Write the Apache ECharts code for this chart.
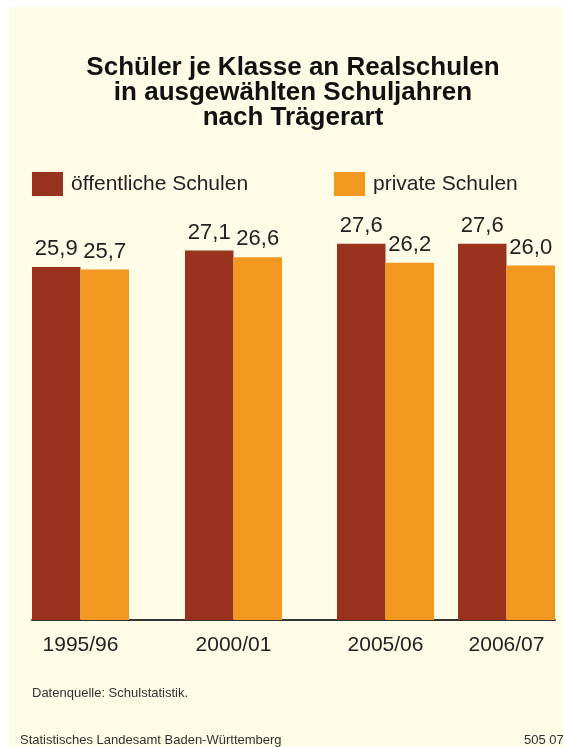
<!DOCTYPE html>
<html>
<head>
<meta charset="utf-8">
<script src="https://cdn.jsdelivr.net/npm/echarts@6/dist/echarts.min.js"></script>
<style>
html, body { margin: 0; padding: 0; background: #fff; }
#chart { width: 563px; height: 747px; }
</style>
</head>
<body>
<div id="chart"></div>
<script>
// Schuljahre
const years = ["1995/96", "2000/01", "2005/06", "2006/07"];
// Schüler je Klasse
const oeffentlich = [25.9, 27.1, 27.6, 27.6];
const privat = [25.7, 26.6, 26.2, 26.0];
// Lage der Gruppen auf der x-Achse (Abstände im Original ungleich)
const groupPos = [48.5, 201.5, 353.5, 474.5];

const font = '"Liberation Sans", Arial, sans-serif';
const textColor = "#222";

const chart = echarts.init(document.getElementById("chart"));

const fmt = (p) => p.value[1].toFixed(1).replace(".", ",");

const option = {
  backgroundColor: "#fff",
  animation: false,
  textStyle: { fontFamily: font },
  title: {
    text: "Schüler je Klasse an Realschulen\nin ausgewählten Schuljahren\nnach Trägerart",
    left: 288,
    textAlign: "center",
    top: 50,
    textStyle: {
      fontFamily: font,
      fontSize: 26,
      fontWeight: "bold",
      color: "#111",
      lineHeight: 25,
    },
  },
  legend: [
    {
      data: ["öffentliche Schulen"],
      left: 32,
      top: 172,
      padding: 0,
      itemWidth: 31,
      itemHeight: 24,
      icon: "rect",
      textStyle: { fontSize: 21, color: textColor, padding: [0, 0, 0, 3] },
    },
    {
      data: ["private Schulen"],
      left: 334,
      top: 172,
      padding: 0,
      itemWidth: 31,
      itemHeight: 24,
      icon: "rect",
      textStyle: { fontSize: 21, color: textColor, padding: [0, 0, 0, 3] },
    },
  ],
  grid: { left: 32, right: 8, top: 211, bottom: 127 },
  xAxis: {
    type: "value",
    min: 0,
    max: 523,
    splitLine: { show: false },
    axisTick: { show: false },
    axisLine: { show: true, lineStyle: { color: "#333", width: 2 } },
    axisLabel: {
      customValues: groupPos,
      formatter: (v) => years[groupPos.indexOf(v)],
      fontSize: 21,
      color: textColor,
      margin: 15,
    },
  },
  yAxis: { type: "value", min: 0, max: 30, show: false },
  series: [
    {
      name: "öffentliche Schulen",
      type: "bar",
      barWidth: 48.5,
      barGap: "0%",
      itemStyle: { color: "#99331D" },
      data: groupPos.map((p, i) => [p, oeffentlich[i]]),
      label: { show: true, position: "top", distance: 7, fontSize: 22, color: textColor, formatter: fmt },
    },
    {
      name: "private Schulen",
      type: "bar",
      barWidth: 48.5,
      barGap: "0%",
      itemStyle: { color: "#F2971F" },
      data: groupPos.map((p, i) => [p, privat[i]]),
      label: { show: true, position: "top", distance: 7, fontSize: 22, color: textColor, formatter: fmt },
    },
  ],
  graphic: [
    {
      type: "rect",
      left: 9,
      top: 7,
      z: -10,
      silent: true,
      shape: { width: 554, height: 740 },
      style: { fill: "#FEFBE7" },
    },
    {
      type: "text",
      left: 32,
      top: 687,
      style: { text: "Datenquelle: Schulstatistik.", font: "13px " + font, fill: "#333" },
    },
    {
      type: "text",
      left: 20,
      top: 734,
      style: { text: "Statistisches Landesamt Baden-Württemberg", font: "13px " + font, fill: "#333" },
    },
    {
      type: "text",
      left: 524,
      top: 734,
      style: { text: "505 07", font: "13px " + font, fill: "#333" },
    },
  ],
};

chart.setOption(option);
</script>
</body>
</html>
